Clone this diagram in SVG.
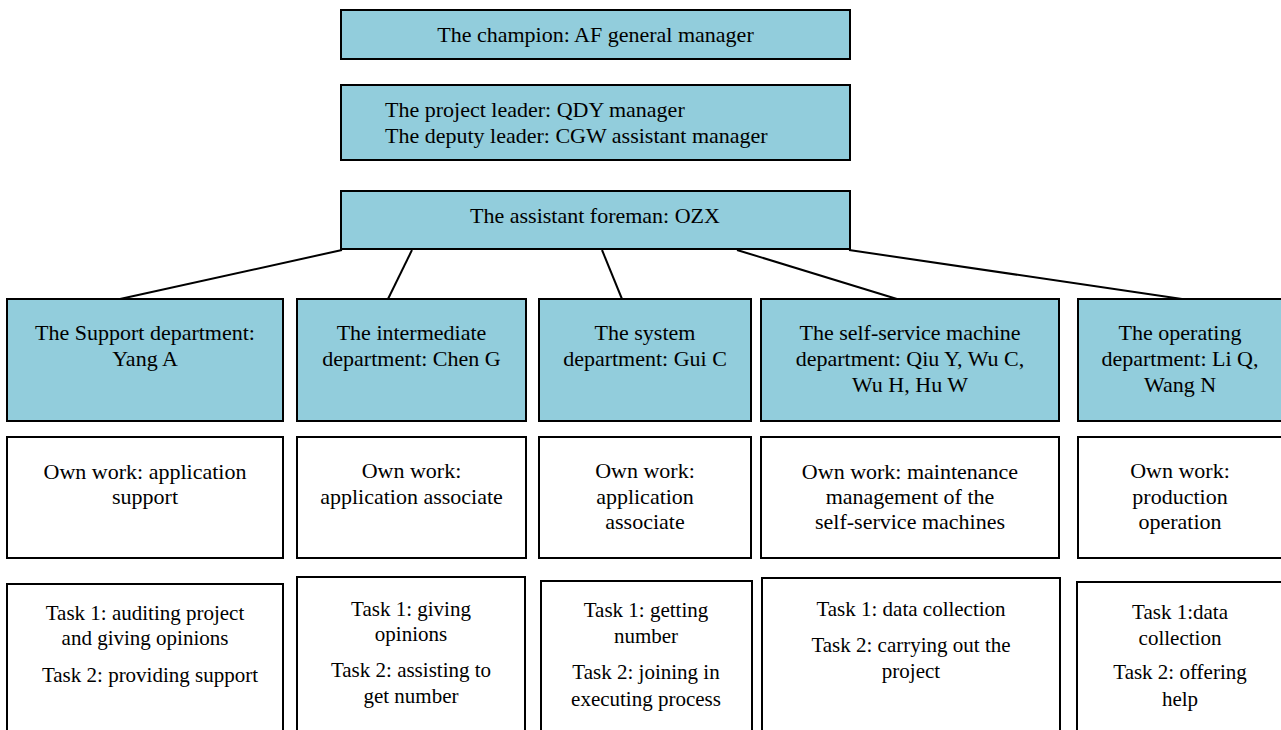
<svg xmlns="http://www.w3.org/2000/svg" width="1281" height="730" viewBox="0 0 1281 730">
<style>
.b{fill:#92CDDC;stroke:#000;stroke-width:2}
.w{fill:#fff;stroke:#000;stroke-width:2}
text{font-family:"Liberation Serif","Times New Roman",serif;font-size:22px;fill:#000;text-anchor:middle}
.l{text-anchor:start}
.t{font-size:21px}
#connectors line{stroke:#000;stroke-width:2}
</style>
<rect width="1281" height="730" fill="#fff"/>
<g id="connectors">
<line x1="342" y1="250" x2="120" y2="299"/>
<line x1="412" y1="250" x2="388" y2="299"/>
<line x1="602" y1="250" x2="622" y2="299"/>
<line x1="737" y1="250" x2="897" y2="299"/>
<line x1="849" y1="250" x2="1182" y2="299"/>
</g>
<g id="champion"><rect class="b" x="341" y="10" width="509" height="49"/><text x="595.5" y="42">The champion: AF general manager</text></g>
<g id="leader"><rect class="b" x="341" y="85" width="509" height="75"/><text class="l" x="385" y="117">The project leader: QDY manager</text><text class="l" x="385" y="143">The deputy leader: CGW assistant manager</text></g>
<g id="foreman"><rect class="b" x="341" y="191" width="509" height="58"/><text x="595" y="223">The assistant foreman: OZX</text></g>

<g id="dept1"><rect class="b" x="7" y="299" width="276" height="122"/><text x="145" y="340">The Support department:</text><text x="145" y="366">Yang A</text></g>
<g id="dept2"><rect class="b" x="297" y="299" width="229" height="122"/><text x="411.5" y="340">The intermediate</text><text x="411.5" y="366">department: Chen G</text></g>
<g id="dept3"><rect class="b" x="539" y="299" width="212" height="122"/><text x="645" y="340">The system</text><text x="645" y="366">department: Gui C</text></g>
<g id="dept4"><rect class="b" x="761" y="299" width="298" height="122"/><text x="910" y="340">The self-service machine</text><text x="910" y="366">department: Qiu Y, Wu C,</text><text x="910" y="392">Wu H, Hu W</text></g>
<g id="dept5"><rect class="b" x="1078" y="299" width="206" height="122"/><text x="1180" y="340">The operating</text><text x="1180" y="366">department: Li Q,</text><text x="1180" y="392">Wang N</text></g>

<g id="own1"><rect class="w" x="7" y="437" width="276" height="121"/><text x="145" y="479">Own work: application</text><text x="145" y="504">support</text></g>
<g id="own2"><rect class="w" x="297" y="437" width="229" height="121"/><text x="411.5" y="478">Own work:</text><text x="411.5" y="504">application associate</text></g>
<g id="own3"><rect class="w" x="539" y="437" width="212" height="121"/><text x="645" y="478">Own work:</text><text x="645" y="504">application</text><text x="645" y="529">associate</text></g>
<g id="own4"><rect class="w" x="761" y="437" width="298" height="121"/><text x="910" y="479">Own work: maintenance</text><text x="910" y="504">management of the</text><text x="910" y="529">self-service machines</text></g>
<g id="own5"><rect class="w" x="1078" y="437" width="206" height="121"/><text x="1180" y="478">Own work:</text><text x="1180" y="504">production</text><text x="1180" y="529">operation</text></g>

<g id="task1"><rect class="w" x="7" y="584" width="276" height="160"/><text class="t" x="145" y="620">Task 1: auditing project</text><text class="t" x="145" y="645">and giving opinions</text><text class="t" x="150" y="682">Task 2: providing support</text></g>
<g id="task2"><rect class="w" x="297" y="577" width="228" height="170"/><text class="t" x="411" y="616">Task 1: giving</text><text class="t" x="411" y="641">opinions</text><text class="t" x="411" y="677">Task 2: assisting to</text><text class="t" x="411" y="703">get number</text></g>
<g id="task3"><rect class="w" x="541" y="581" width="211" height="160"/><text class="t" x="646" y="617">Task 1: getting</text><text class="t" x="646" y="643">number</text><text class="t" x="646" y="679">Task 2: joining in</text><text class="t" x="646" y="706">executing process</text></g>
<g id="task4"><rect class="w" x="762" y="578" width="298" height="170"/><text class="t" x="911" y="616">Task 1: data collection</text><text class="t" x="911" y="652">Task 2: carrying out the</text><text class="t" x="911" y="678">project</text></g>
<g id="task5"><rect class="w" x="1077" y="582" width="207" height="160"/><text class="t" x="1180" y="619">Task 1:data</text><text class="t" x="1180" y="645">collection</text><text class="t" x="1180" y="679">Task 2: offering</text><text class="t" x="1180" y="706">help</text></g>
</svg>
